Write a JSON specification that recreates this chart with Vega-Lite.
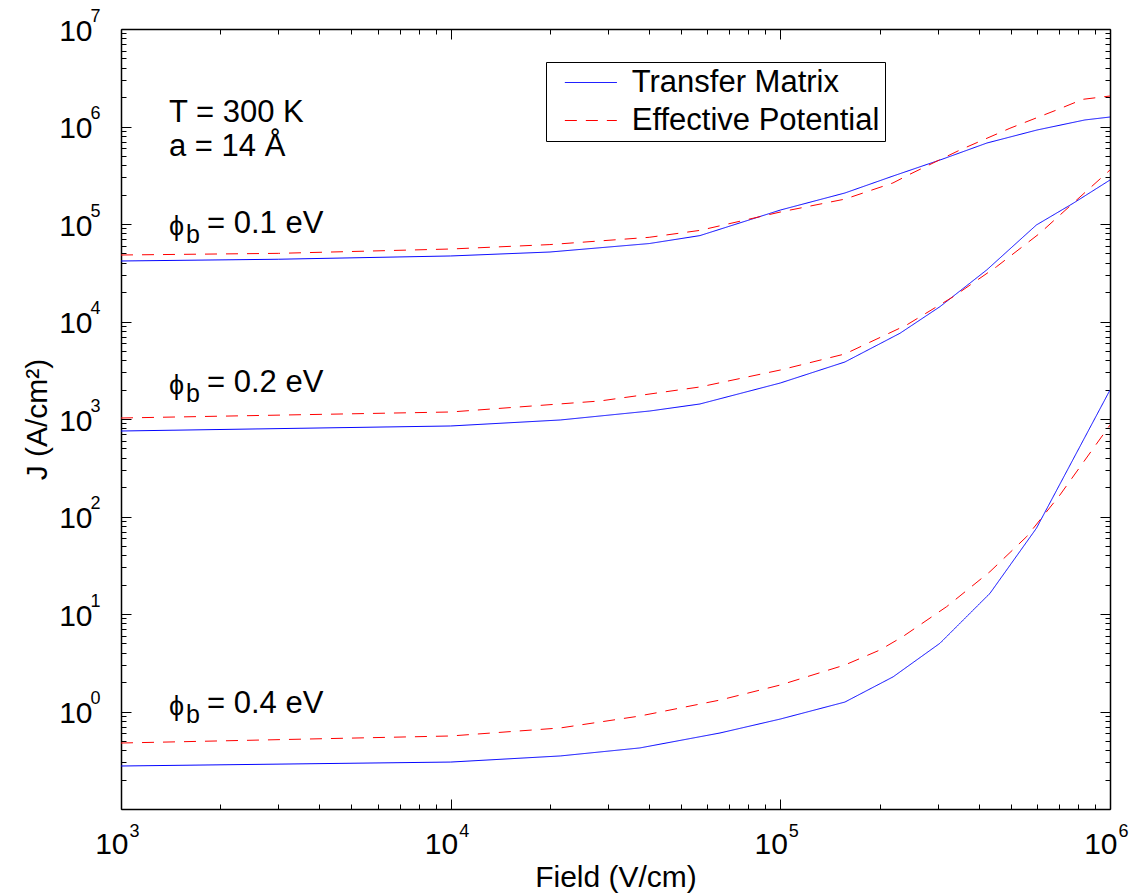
{
  "$schema": "https://vega.github.io/schema/vega-lite/v6.json",
  "width": 989,
  "height": 780,
  "autosize": {"type": "none"},
  "padding": {"left": 121, "top": 29, "right": 26, "bottom": 85},
  "background": "white",
  "config": {
    "view": {"stroke": null},
    "font": "Liberation Sans",
    "axis": {"grid": false, "domainColor": "black", "tickColor": "black", "labelColor": "black", "titleColor": "black", "labelFont": "Liberation Sans", "titleFont": "Liberation Sans", "labelOverlap": false, "labelFlush": false, "labelBound": false, "titleFontWeight": "normal"}
  },
  "datasets": {
    "curves": [
      {"field": 1000, "J": 41740, "model": "Transfer Matrix", "phi": "0.1"},
      {"field": 3000, "J": 43500, "model": "Transfer Matrix", "phi": "0.1"},
      {"field": 10000, "J": 47000, "model": "Transfer Matrix", "phi": "0.1"},
      {"field": 20000, "J": 51600, "model": "Transfer Matrix", "phi": "0.1"},
      {"field": 40000, "J": 63000, "model": "Transfer Matrix", "phi": "0.1"},
      {"field": 57000, "J": 76000, "model": "Transfer Matrix", "phi": "0.1"},
      {"field": 100000, "J": 139000, "model": "Transfer Matrix", "phi": "0.1"},
      {"field": 157000, "J": 208000, "model": "Transfer Matrix", "phi": "0.1"},
      {"field": 219500, "J": 310000, "model": "Transfer Matrix", "phi": "0.1"},
      {"field": 311300, "J": 464500, "model": "Transfer Matrix", "phi": "0.1"},
      {"field": 423300, "J": 677000, "model": "Transfer Matrix", "phi": "0.1"},
      {"field": 600200, "J": 920000, "model": "Transfer Matrix", "phi": "0.1"},
      {"field": 839000, "J": 1167000, "model": "Transfer Matrix", "phi": "0.1"},
      {"field": 1000000, "J": 1251000, "model": "Transfer Matrix", "phi": "0.1"},

      {"field": 1000, "J": 48100, "model": "Effective Potential", "phi": "0.1"},
      {"field": 3000, "J": 50000, "model": "Effective Potential", "phi": "0.1"},
      {"field": 10000, "J": 55400, "model": "Effective Potential", "phi": "0.1"},
      {"field": 20000, "J": 61500, "model": "Effective Potential", "phi": "0.1"},
      {"field": 40000, "J": 73000, "model": "Effective Potential", "phi": "0.1"},
      {"field": 57000, "J": 86000, "model": "Effective Potential", "phi": "0.1"},
      {"field": 100000, "J": 132700, "model": "Effective Potential", "phi": "0.1"},
      {"field": 157000, "J": 180000, "model": "Effective Potential", "phi": "0.1"},
      {"field": 219500, "J": 263600, "model": "Effective Potential", "phi": "0.1"},
      {"field": 247000, "J": 323600, "model": "Effective Potential", "phi": "0.1"},
      {"field": 350600, "J": 574000, "model": "Effective Potential", "phi": "0.1"},
      {"field": 497000, "J": 959000, "model": "Effective Potential", "phi": "0.1"},
      {"field": 688000, "J": 1475000, "model": "Effective Potential", "phi": "0.1"},
      {"field": 827000, "J": 1900000, "model": "Effective Potential", "phi": "0.1"},
      {"field": 1000000, "J": 2055000, "model": "Effective Potential", "phi": "0.1"},

      {"field": 1000, "J": 753, "model": "Transfer Matrix", "phi": "0.2"},
      {"field": 10000, "J": 848, "model": "Transfer Matrix", "phi": "0.2"},
      {"field": 21500, "J": 977, "model": "Transfer Matrix", "phi": "0.2"},
      {"field": 40200, "J": 1208, "model": "Transfer Matrix", "phi": "0.2"},
      {"field": 57000, "J": 1425, "model": "Transfer Matrix", "phi": "0.2"},
      {"field": 100000, "J": 2340, "model": "Transfer Matrix", "phi": "0.2"},
      {"field": 157000, "J": 3844, "model": "Transfer Matrix", "phi": "0.2"},
      {"field": 230600, "J": 7570, "model": "Transfer Matrix", "phi": "0.2"},
      {"field": 304900, "J": 14190, "model": "Transfer Matrix", "phi": "0.2"},
      {"field": 422500, "J": 33730, "model": "Transfer Matrix", "phi": "0.2"},
      {"field": 598000, "J": 97700, "model": "Transfer Matrix", "phi": "0.2"},
      {"field": 773000, "J": 163000, "model": "Transfer Matrix", "phi": "0.2"},
      {"field": 1000000, "J": 282600, "model": "Transfer Matrix", "phi": "0.2"},

      {"field": 1000, "J": 1024, "model": "Effective Potential", "phi": "0.2"},
      {"field": 10000, "J": 1180, "model": "Effective Potential", "phi": "0.2"},
      {"field": 28400, "J": 1531, "model": "Effective Potential", "phi": "0.2"},
      {"field": 57000, "J": 2130, "model": "Effective Potential", "phi": "0.2"},
      {"field": 100000, "J": 3180, "model": "Effective Potential", "phi": "0.2"},
      {"field": 157000, "J": 4645, "model": "Effective Potential", "phi": "0.2"},
      {"field": 241600, "J": 9210, "model": "Effective Potential", "phi": "0.2"},
      {"field": 334500, "J": 17960, "model": "Effective Potential", "phi": "0.2"},
      {"field": 452800, "J": 36480, "model": "Effective Potential", "phi": "0.2"},
      {"field": 612000, "J": 80200, "model": "Effective Potential", "phi": "0.2"},
      {"field": 792000, "J": 176200, "model": "Effective Potential", "phi": "0.2"},
      {"field": 1000000, "J": 358000, "model": "Effective Potential", "phi": "0.2"},

      {"field": 1000, "J": 0.276, "model": "Transfer Matrix", "phi": "0.4"},
      {"field": 10000, "J": 0.303, "model": "Transfer Matrix", "phi": "0.4"},
      {"field": 21500, "J": 0.35, "model": "Transfer Matrix", "phi": "0.4"},
      {"field": 37500, "J": 0.423, "model": "Transfer Matrix", "phi": "0.4"},
      {"field": 65600, "J": 0.602, "model": "Transfer Matrix", "phi": "0.4"},
      {"field": 100000, "J": 0.837, "model": "Transfer Matrix", "phi": "0.4"},
      {"field": 157000, "J": 1.25, "model": "Transfer Matrix", "phi": "0.4"},
      {"field": 220000, "J": 2.27, "model": "Transfer Matrix", "phi": "0.4"},
      {"field": 304900, "J": 5.01, "model": "Transfer Matrix", "phi": "0.4"},
      {"field": 432500, "J": 16.3, "model": "Transfer Matrix", "phi": "0.4"},
      {"field": 598000, "J": 75.7, "model": "Transfer Matrix", "phi": "0.4"},
      {"field": 1000000, "J": 1982, "model": "Transfer Matrix", "phi": "0.4"},

      {"field": 1000, "J": 0.475, "model": "Effective Potential", "phi": "0.4"},
      {"field": 10000, "J": 0.561, "model": "Effective Potential", "phi": "0.4"},
      {"field": 21500, "J": 0.678, "model": "Effective Potential", "phi": "0.4"},
      {"field": 37500, "J": 0.899, "model": "Effective Potential", "phi": "0.4"},
      {"field": 65600, "J": 1.31, "model": "Effective Potential", "phi": "0.4"},
      {"field": 100000, "J": 1.87, "model": "Effective Potential", "phi": "0.4"},
      {"field": 157000, "J": 3.0, "model": "Effective Potential", "phi": "0.4"},
      {"field": 200400, "J": 4.27, "model": "Effective Potential", "phi": "0.4"},
      {"field": 235000, "J": 5.85, "model": "Effective Potential", "phi": "0.4"},
      {"field": 319600, "J": 11.9, "model": "Effective Potential", "phi": "0.4"},
      {"field": 432500, "J": 27.2, "model": "Effective Potential", "phi": "0.4"},
      {"field": 558500, "J": 62.1, "model": "Effective Potential", "phi": "0.4"},
      {"field": 704700, "J": 166, "model": "Effective Potential", "phi": "0.4"},
      {"field": 1000000, "J": 867, "model": "Effective Potential", "phi": "0.4"}
    ],
    "annot": [
      {"label": "T = 300 K", "field": 1398, "J": 1112000, "part": "plain"},
      {"label": "a = 14 Å", "field": 1398, "J": 498000, "part": "plain"},
      {"label": "ϕ", "field": 1398, "J": 80900, "part": "phi"},
      {"label": "b", "field": 1398, "J": 80900, "part": "sub"},
      {"label": "= 0.1 eV", "field": 1398, "J": 80900, "part": "rest"},
      {"label": "ϕ", "field": 1398, "J": 1892, "part": "phi"},
      {"label": "b", "field": 1398, "J": 1892, "part": "sub"},
      {"label": "= 0.2 eV", "field": 1398, "J": 1892, "part": "rest"},
      {"label": "ϕ", "field": 1398, "J": 0.965, "part": "phi"},
      {"label": "b", "field": 1398, "J": 0.965, "part": "sub"},
      {"label": "= 0.4 eV", "field": 1398, "J": 0.965, "part": "rest"}
    ]
  },
  "layer": [
    {
      "data": {"name": "curves"},
      "mark": {"type": "line", "strokeWidth": 1, "clip": true},
      "encoding": {
        "x": {"field": "field", "type": "quantitative",
          "scale": {"type": "log", "domain": [1000, 1000000], "nice": false},
          "axis": {"orient": "bottom",
            "values": [1000,2000,3000,4000,5000,6000,7000,8000,9000,10000,20000,30000,40000,50000,60000,70000,80000,90000,100000,200000,300000,400000,500000,600000,700000,800000,900000,1000000],
            "labelExpr": "abs(log(datum.value)/LN10 - round(log(datum.value)/LN10)) < 0.001 ? '10' : ''",
            "tickSize": {"condition": {"test": "abs(log(datum.value)/LN10 - round(log(datum.value)/LN10)) < 0.001", "value": -10}, "value": -5},
            "domainWidth": 1.5, "tickWidth": 1,
            "labelFontSize": 30, "labelAlign": "right", "labelBaseline": "alphabetic", "labelOffset": 7, "labelPadding": 54,
            "title": "Field (V/cm)", "titleFontSize": 30, "titleBaseline": "alphabetic", "titleAlign": "center", "titleX": 494.5, "titleY": 77}
        },
        "y": {"field": "J", "type": "quantitative",
          "scale": {"type": "log", "domain": [0.1, 10000000], "nice": false},
          "axis": {"orient": "left",
            "values": [0.1,0.2,0.3,0.4,0.5,0.6,0.7,0.8,0.9,1,2,3,4,5,6,7,8,9,10,20,30,40,50,60,70,80,90,100,200,300,400,500,600,700,800,900,1000,2000,3000,4000,5000,6000,7000,8000,9000,10000,20000,30000,40000,50000,60000,70000,80000,90000,100000,200000,300000,400000,500000,600000,700000,800000,900000,1000000,2000000,3000000,4000000,5000000,6000000,7000000,8000000,9000000,10000000],
            "labelExpr": "(abs(log(datum.value)/LN10 - round(log(datum.value)/LN10)) < 0.001 && datum.value > 0.5) ? '10' : ''",
            "tickSize": {"condition": {"test": "abs(log(datum.value)/LN10 - round(log(datum.value)/LN10)) < 0.001", "value": -10}, "value": -5},
            "domainWidth": 1.5, "tickWidth": 1,
            "labelFontSize": 30, "labelAlign": "right", "labelBaseline": "alphabetic", "labelOffset": 11, "labelPadding": 39,
            "title": "J (A/cm²)", "titleFontSize": 30, "titleAngle": -90, "titleBaseline": "alphabetic", "titleAlign": "center", "titleX": -75, "titleY": 390}
        },
        "color": {"field": "model", "type": "nominal",
          "scale": {"domain": ["Transfer Matrix", "Effective Potential"], "range": ["#0000ff", "#ff0000"]},
          "legend": {"orient": "none", "legendX": 425, "legendY": 33, "title": null,
            "strokeColor": "black", "fillColor": "white", "padding": 5,
            "symbolType": "M-0.19,0H5.81", "symbolSize": 300, "symbolStrokeWidth": 1,
            "labelFont": "Liberation Sans", "labelFontSize": 31, "labelColor": "black", "labelOffset": 49.7, "labelLimit": 0, "rowPadding": 6,
            "labelExpr": "datum.label + '\u2003\u2003'"}
        },
        "strokeDash": {"field": "model", "type": "nominal",
          "scale": {"domain": ["Transfer Matrix", "Effective Potential"], "range": [[1, 0], [12, 9]]},
          "legend": {"labelExpr": "datum.label + '\u2003\u2003'", "labelLimit": 0}
        },
        "detail": {"field": "phi", "type": "nominal"}
      }
    },
    {
      "data": {"name": "curves"},
      "mark": {"type": "point", "opacity": 0},
      "encoding": {
        "x": {"field": "field", "type": "quantitative",
          "scale": {"type": "log", "domain": [1000, 1000000], "nice": false},
          "axis": {"orient": "bottom", "values": [1000, 10000, 100000, 1000000],
            "labelExpr": "format(round(log(datum.value)/LN10), 'd')",
            "ticks": false, "domain": false,
            "labelFontSize": 18, "labelAlign": "left", "labelBaseline": "alphabetic", "labelOffset": 8, "labelPadding": 27, "title": null}
        },
        "y": {"field": "J", "type": "quantitative",
          "scale": {"type": "log", "domain": [0.1, 10000000], "nice": false},
          "axis": {"orient": "left", "values": [1, 10, 100, 1000, 10000, 100000, 1000000, 10000000],
            "labelExpr": "format(round(log(datum.value)/LN10), 'd')",
            "ticks": false, "domain": false,
            "labelFontSize": 18, "labelAlign": "left", "labelBaseline": "alphabetic", "labelOffset": -8, "labelPadding": 31, "title": null}
        }
      }
    },
    {
      "data": {"name": "curves"},
      "mark": {"type": "point", "opacity": 0},
      "encoding": {
        "x": {"field": "field", "type": "quantitative",
          "scale": {"type": "log", "domain": [1000, 1000000], "nice": false},
          "axis": {"orient": "top",
            "values": [1000,2000,3000,4000,5000,6000,7000,8000,9000,10000,20000,30000,40000,50000,60000,70000,80000,90000,100000,200000,300000,400000,500000,600000,700000,800000,900000,1000000],
            "labels": false,
            "tickSize": {"condition": {"test": "abs(log(datum.value)/LN10 - round(log(datum.value)/LN10)) < 0.001", "value": -10}, "value": -5},
            "domainWidth": 1.5, "tickWidth": 1, "title": null}
        },
        "y": {"field": "J", "type": "quantitative",
          "scale": {"type": "log", "domain": [0.1, 10000000], "nice": false},
          "axis": {"orient": "right",
            "values": [0.1,0.2,0.3,0.4,0.5,0.6,0.7,0.8,0.9,1,2,3,4,5,6,7,8,9,10,20,30,40,50,60,70,80,90,100,200,300,400,500,600,700,800,900,1000,2000,3000,4000,5000,6000,7000,8000,9000,10000,20000,30000,40000,50000,60000,70000,80000,90000,100000,200000,300000,400000,500000,600000,700000,800000,900000,1000000,2000000,3000000,4000000,5000000,6000000,7000000,8000000,9000000,10000000],
            "labels": false,
            "tickSize": {"condition": {"test": "abs(log(datum.value)/LN10 - round(log(datum.value)/LN10)) < 0.001", "value": -10}, "value": -5},
            "domainWidth": 1.5, "tickWidth": 1, "title": null}
        }
      }
    },
    {
      "data": {"name": "annot"},
      "transform": [{"filter": "datum.part == 'plain'"}],
      "mark": {"type": "text", "align": "left", "baseline": "alphabetic", "fontSize": 31, "font": "Liberation Sans", "color": "black"},
      "encoding": {
        "x": {"field": "field", "type": "quantitative", "scale": {"type": "log", "domain": [1000, 1000000], "nice": false}, "axis": null},
        "y": {"field": "J", "type": "quantitative", "scale": {"type": "log", "domain": [0.1, 10000000], "nice": false}, "axis": null},
        "text": {"field": "label"}
      }
    },
    {
      "data": {"name": "annot"},
      "transform": [{"filter": "datum.part == 'phi'"}],
      "mark": {"type": "text", "align": "left", "baseline": "alphabetic", "fontSize": 27, "dy": 2, "font": "Liberation Sans, DejaVu Sans", "color": "black"},
      "encoding": {
        "x": {"field": "field", "type": "quantitative", "scale": {"type": "log", "domain": [1000, 1000000], "nice": false}, "axis": null},
        "y": {"field": "J", "type": "quantitative", "scale": {"type": "log", "domain": [0.1, 10000000], "nice": false}, "axis": null},
        "text": {"field": "label"}
      }
    },
    {
      "data": {"name": "annot"},
      "transform": [{"filter": "datum.part == 'sub'"}],
      "mark": {"type": "text", "align": "left", "baseline": "alphabetic", "fontSize": 25, "dx": 17, "dy": 10, "font": "Liberation Sans", "color": "black"},
      "encoding": {
        "x": {"field": "field", "type": "quantitative", "scale": {"type": "log", "domain": [1000, 1000000], "nice": false}, "axis": null},
        "y": {"field": "J", "type": "quantitative", "scale": {"type": "log", "domain": [0.1, 10000000], "nice": false}, "axis": null},
        "text": {"field": "label"}
      }
    },
    {
      "data": {"name": "annot"},
      "transform": [{"filter": "datum.part == 'rest'"}],
      "mark": {"type": "text", "align": "left", "baseline": "alphabetic", "fontSize": 31, "dx": 38, "font": "Liberation Sans", "color": "black"},
      "encoding": {
        "x": {"field": "field", "type": "quantitative", "scale": {"type": "log", "domain": [1000, 1000000], "nice": false}, "axis": null},
        "y": {"field": "J", "type": "quantitative", "scale": {"type": "log", "domain": [0.1, 10000000], "nice": false}, "axis": null},
        "text": {"field": "label"}
      }
    }
  ],
  "resolve": {"axis": {"x": "independent", "y": "independent"}}
}
